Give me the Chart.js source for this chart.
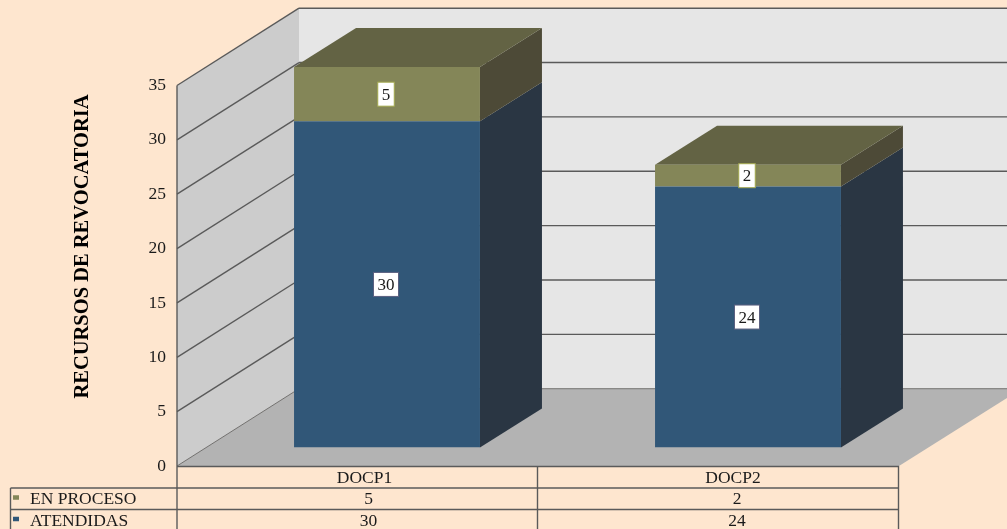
<!DOCTYPE html>
<html>
<head>
<meta charset="utf-8">
<script src="https://cdn.jsdelivr.net/npm/chart.js@4"></script>
<style>
body { margin:0; background:#fee6cf; overflow:hidden; }
canvas { display:block; }
</style>
</head>
<body>
<canvas id="chart" width="1007" height="529"></canvas>
<script>
const categories = ['DOCP1', 'DOCP2']
const atendidas = [30, 24]
const enProceso = [5, 2]
const axisTitle = 'RECURSOS DE REVOCATORIA'

const fontName = '"Liberation Serif", serif'
const textColor = '#1a1a1a'
const lineColor = '#5a5a5a'
const blue = { front:'#315778', side:'#2a3643', label:'#5b6080' }
const olive = { front:'#848658', side:'#4d4a37', top:'#636344', label:'#a3a84d' }

// depth of the room and of the bars, in pixels
const wall = { dx:122, dy:-77.3 }
const barDepth = { dx:62, dy:-39 }
const barShift = { dx:29.5, dy:-18.5 }

// the table text is not centred in its cells in the original
const headerNudge = [7, 14.5]
const valueNudge = [11, 18.5]

function poly(ctx, pts, fill) {
  ctx.beginPath()
  pts.forEach((p, i) => i ? ctx.lineTo(p[0], p[1]) : ctx.moveTo(p[0], p[1]))
  ctx.closePath()
  ctx.fillStyle = fill
  ctx.fill()
}

function line(ctx, x1, y1, x2, y2) {
  ctx.beginPath()
  ctx.moveTo(x1, y1)
  ctx.lineTo(x2, y2)
  ctx.stroke()
}

const room = {
  id:'room',
  beforeDatasetsDraw(chart) {
    const ctx = chart.ctx
    const a = chart.chartArea
    const yScale = chart.scales.y
    const w = chart.width
    const backX = a.left + wall.dx
    const backBottom = a.bottom + wall.dy
    const backTop = a.top + wall.dy

    // walls and floor
    poly(ctx, [[a.left,a.top],[backX,backTop],[backX,backBottom],[a.left,a.bottom]], '#cccccc')
    poly(ctx, [[backX,backTop],[w,backTop],[w,backBottom],[backX,backBottom]], '#e6e6e6')
    poly(ctx, [[a.left,a.bottom],[backX,backBottom],[w,backBottom],[w,398],[a.right,a.bottom]], '#b3b3b3')

    ctx.save()
    ctx.strokeStyle = lineColor
    yScale.ticks.forEach(t => {
      const y = yScale.getPixelForValue(t.value)
      ctx.lineWidth = t.value === 0 ? 0.8 : 1.4
      line(ctx, a.left, y, backX, y + wall.dy)
      line(ctx, backX, y + wall.dy, w, y + wall.dy)
    })
    ctx.restore()

    // sides and tops of the bars, the fronts are then drawn shifted into the room
    ctx.save()
    ctx.translate(barShift.dx, barShift.dy)
    chart.data.datasets.forEach((ds, i) => {
      const colors = i === 0 ? blue : olive
      chart.getDatasetMeta(i).data.forEach(bar => {
        const r = bar.x + bar.width / 2
        poly(ctx, [[r,bar.base],[r+barDepth.dx,bar.base+barDepth.dy],[r+barDepth.dx,bar.y+barDepth.dy],[r,bar.y]], colors.side)
      })
    })
    chart.getDatasetMeta(1).data.forEach(bar => {
      const l = bar.x - bar.width / 2
      const r = bar.x + bar.width / 2
      poly(ctx, [[l,bar.y],[l+barDepth.dx,bar.y+barDepth.dy],[r+barDepth.dx,bar.y+barDepth.dy],[r,bar.y]], olive.top)
    })
  },
  afterDatasetsDraw(chart) {
    const ctx = chart.ctx
    // value labels, still inside the shifted plane
    ctx.font = '17px ' + fontName
    ctx.textAlign = 'center'
    ctx.textBaseline = 'middle'
    chart.data.datasets.forEach((ds, i) => {
      const colors = i === 0 ? blue : olive
      chart.getDatasetMeta(i).data.forEach((bar, j) => {
        const cx = bar.x - 1
        const cy = (bar.y + bar.base) / 2
        const text = String(ds.data[j])
        const bw = ctx.measureText(text).width + 8
        const bh = 24
        ctx.fillStyle = '#ffffff'
        ctx.strokeStyle = colors.label
        ctx.lineWidth = 1
        ctx.fillRect(cx - bw / 2, cy - bh / 2, bw, bh)
        ctx.strokeRect(cx - bw / 2, cy - bh / 2, bw, bh)
        ctx.fillStyle = textColor
        ctx.fillText(text, cx, cy + 1)
      })
    })
    ctx.restore()
  },
  afterDraw(chart) {
    const ctx = chart.ctx
    const a = chart.chartArea
    const xScale = chart.scales.x
    const rowTop = 488
    const rowH = 21.5
    const tableLeft = 10.5
    const mid = (a.left + a.right) / 2 - 0.5
    const rows = [
      { name:'EN PROCESO', values:enProceso, color:olive.front },
      { name:'ATENDIDAS', values:atendidas, color:blue.front }
    ]
    ctx.save()

    // axis title
    ctx.save()
    ctx.translate(82.5, 246.5)
    ctx.rotate(-Math.PI / 2)
    ctx.font = 'bold 20.5px ' + fontName
    ctx.fillStyle = '#000000'
    ctx.textAlign = 'center'
    ctx.textBaseline = 'middle'
    ctx.fillText(axisTitle, 0, 0)
    ctx.restore()

    // data table under the axis
    ctx.strokeStyle = lineColor
    ctx.lineWidth = 1.4
    line(ctx, a.left, a.top, a.left, 529)
    line(ctx, a.right - 0.5, a.bottom, a.right - 0.5, 529)
    line(ctx, mid, a.bottom, mid, 529)
    line(ctx, a.left, a.bottom + 0.5, a.right, a.bottom + 0.5)
    line(ctx, tableLeft, rowTop, a.right, rowTop)
    line(ctx, tableLeft, rowTop + rowH, a.right, rowTop + rowH)
    line(ctx, tableLeft, rowTop, tableLeft, 529)

    ctx.font = '17.5px ' + fontName
    ctx.textBaseline = 'middle'
    ctx.fillStyle = textColor
    ctx.textAlign = 'center'
    categories.forEach((c, j) => ctx.fillText(c, xScale.getPixelForTick(j) + headerNudge[j], 478))
    rows.forEach((row, i) => {
      const cy = rowTop + rowH * i + rowH / 2 + 1
      ctx.fillStyle = row.color
      ctx.fillRect(13, cy - 4.5, 6, 4.5)
      ctx.fillStyle = textColor
      ctx.textAlign = 'left'
      ctx.fillText(row.name, 30, cy)
      ctx.textAlign = 'center'
      row.values.forEach((v, j) => ctx.fillText(String(v), xScale.getPixelForTick(j) + valueNudge[j], cy))
    })
    ctx.restore()
  }
}

new Chart(document.getElementById('chart'), {
  type:'bar',
  data:{
    labels:categories,
    datasets:[
      { label:'ATENDIDAS', data:atendidas, backgroundColor:blue.front },
      { label:'EN PROCESO', data:enProceso, backgroundColor:olive.front }
    ]
  },
  options:{
    responsive:false,
    animation:false,
    devicePixelRatio:1,
    layout:{ padding:{ left:71, right:108, top:85.5, bottom:0 } },
    categoryPercentage:1,
    barPercentage:0.515,
    plugins:{ legend:{ display:false }, tooltip:{ enabled:false } },
    scales:{
      x:{
        stacked:true,
        grid:{ display:false, drawTicks:false },
        border:{ display:false },
        ticks:{ display:false },
        afterFit(s) { s.height = 63 }
      },
      y:{
        stacked:true,
        min:0,
        max:35,
        grid:{ display:false, drawTicks:false },
        border:{ display:false },
        ticks:{ stepSize:5, color:textColor, font:{ family:fontName, size:17.5 }, padding:11 },
        afterFit(s) { s.width = 106 }
      }
    }
  },
  plugins:[room]
})
</script>
</body>
</html>
